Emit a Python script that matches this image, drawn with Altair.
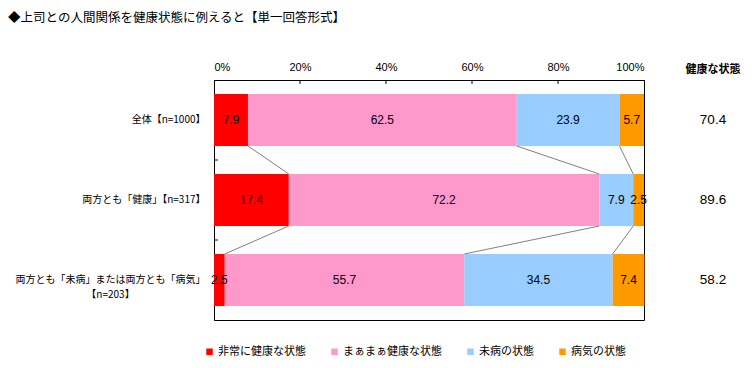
import altair as alt
import numpy as np
import pandas as pd

title_text = "◆上司との人間関係を健康状態に例えると【単一回答形式】"
categories = ["全体【n=1000】", "両方とも「健康」【n=317】", "両方とも「未病」または両方とも「病気」【n=203】"]
label_lines = [["全体【n=1000】"], ["両方とも「健康」【n=317】"],
               ["両方とも「未病」または両方とも「病気」", "【n=203】"]]
series = ["非常に健康な状態", "まぁまぁ健康な状態", "未病の状態", "病気の状態"]
colors = ["#FF0000", "#FF99CC", "#99CCFF", "#FF9900"]
v_very = [7.9, 17.4, 2.5]
v_fair = [62.5, 72.2, 55.7]
v_pre = [23.9, 7.9, 34.5]
v_sick = [5.7, 2.5, 7.4]
healthy_total = [70.4, 89.6, 58.2]
x_ticks = [0, 20, 40, 60, 80, 100]
right_header = "健康な状態"

JP = "Noto Sans CJK JP"
NUM = "Liberation Sans"

W, H = 430, 240
BAR_HALF = 26

vals = [v_very, v_fair, v_pre, v_sick]
rows = []
for i, c in enumerate(categories):
    for j, s in enumerate(series):
        rows.append({"cat": c, "series": s, "order": j, "value": vals[j][i]})
df = pd.DataFrame(rows)

# connectors between successive bars (cumulative boundaries)
mat = np.array(vals).T  # rows=categories
cum = np.cumsum(mat, axis=1)[:, :3]
con_rows = []
for i in range(len(categories) - 1):
    for k in range(3):
        con_rows.append({"cat_a": categories[i], "cat_b": categories[i + 1],
                         "xa": cum[i, k], "xb": cum[i + 1, k]})
con_df = pd.DataFrame(con_rows)

# y label expression
expr = "datum.value"
multi_tests = []
for c, lines in zip(categories, label_lines):
    if len(lines) > 1:
        arr = "[" + ", ".join("'" + l + "'" for l in lines) + "]"
        expr = f"datum.value === '{c}' ? {arr} : " + expr
        multi_tests.append(f"datum.value === '{c}'")
    else:
        expr = f"datum.value === '{c}' ? '{lines[0]}' : " + expr
multi_test = " || ".join(multi_tests)

yscale = alt.Scale(domain=categories, paddingInner=0.35, paddingOuter=0.175)
xscale = alt.Scale(domain=[0, 100], nice=False)

Y = alt.Y("cat:N", scale=yscale, sort=categories, title=None,
          axis=alt.Axis(labelExpr=expr,
                        labelAlign={"condition": {"test": multi_test, "value": "center"}, "value": "right"},
                        labelPadding={"condition": {"test": multi_test, "value": 104}, "value": 9},
                        ticks=False,
                        labelFontSize=10, labelFont=JP, labelColor="black", labelLimit=0,
                        labelLineHeight=15, domainColor="black"))

base = alt.Chart(df).transform_stack(
    stack="value", groupby=["cat"], as_=["x0", "x1"], sort=[alt.SortField("order")]
).transform_calculate(mid="(datum.x0 + datum.x1) / 2")

bars = base.mark_bar(strokeWidth=0).encode(
    x=alt.X("x0:Q", scale=xscale, title=None,
            axis=alt.Axis(orient="top", values=x_ticks, labelExpr="datum.value + '%'",
                          grid=False, ticks=False, tickSize=0, labelPadding=8,
                          labelFontSize=11, labelFont=NUM, labelColor="black",
                          domainColor="black")),
    x2="x1:Q",
    y=Y,
    color=alt.Color("series:N", scale=alt.Scale(domain=series, range=colors), sort=series,
                    legend=alt.Legend(orient="none", legendX=-10, legendY=266,
                                      direction="horizontal", columns=4, symbolType="square",
                                      symbolSize=42, symbolStrokeWidth=0, labelFontSize=11,
                                      labelFont=JP, labelColor="black", columnPadding=23,
                                      labelOffset=3, title=None, labelLimit=0, padding=0)),
)

seg_text = base.mark_text(font=NUM, fontSize=12, color="black").encode(
    x=alt.X("mid:Q", title=None),
    y=alt.Y("cat:N", sort=categories, title=None),
    text=alt.Text("value:Q", format=".1f"),
)

connectors = alt.Chart(con_df).mark_rule(
    color="#808080", strokeWidth=1, yOffset=BAR_HALF, y2Offset=-BAR_HALF
).encode(
    x=alt.X("xa:Q", title=None),
    x2="xb:Q",
    y=alt.Y("cat_a:N", sort=categories, title=None),
    y2="cat_b:N",
)

top_ticks = alt.Chart(pd.DataFrame({"t": x_ticks[1:-1]})).mark_rule(color="black").encode(
    x=alt.X("t:Q", title=None), y=alt.value(0), y2=alt.value(4)
)

left_ticks = alt.Chart(pd.DataFrame({"cat": categories[:-1]})).mark_rule(
    color="black", yOffset=40
).encode(
    y=alt.Y("cat:N", sort=categories, title=None),
    x=alt.value(0), x2=alt.value(4)
)

right_vals = alt.Chart(pd.DataFrame({"cat": categories, "h": healthy_total})).mark_text(
    font=NUM, fontSize=13.5, color="black"
).encode(
    x=alt.value(499), y=alt.Y("cat:N", sort=categories, title=None),
    text=alt.Text("h:Q", format=".1f"),
)

right_head = alt.Chart(pd.DataFrame({"t": [right_header]})).mark_text(
    font=JP, fontSize=11, color="black", fontWeight="bold"
).encode(x=alt.value(499), y=alt.value(-10), text="t:N")

title = alt.Chart(pd.DataFrame({"t": [title_text]})).mark_text(
    font=JP, fontSize=12.5, color="black", align="left", baseline="middle"
).encode(x=alt.value(-206), y=alt.value(-62), text="t:N")

chart = alt.layer(
    bars, connectors, seg_text, top_ticks, left_ticks, right_vals, right_head, title
).properties(
    width=W, height=H,
    autosize=alt.AutoSizeParams(type="none"),
    padding={"left": 206, "top": 72, "right": 100, "bottom": 44},
    background="white",
).configure_view(stroke="black", strokeWidth=1)

chart.save("out.html", embed_options={"renderer": "svg", "actions": False})
